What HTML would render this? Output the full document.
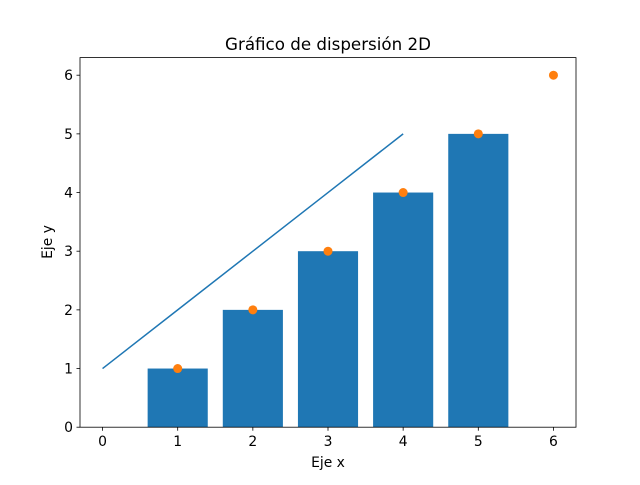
<!DOCTYPE html>
<html><head><meta charset="utf-8"><style>
body{margin:0;background:#fff}
svg{font-family:"DejaVu Sans","Liberation Sans",sans-serif}
</style></head><body>
<svg id="chart" width="640" height="480" viewBox="0 0 640 480">
<rect width="640" height="480" fill="#fff"/>
<g id="bars"></g><g id="line"></g><g id="pts"></g><g id="ticks"></g>
<rect x="80" y="57.6" width="496" height="369.6" fill="none" stroke="#000" stroke-width="0.8"/>
<text x="328" y="50" text-anchor="middle" font-size="16.7">Gráfico de dispersión 2D</text>
<text x="328" y="467" text-anchor="middle" font-size="13.9">Eje x</text>
<text transform="translate(52,242) rotate(-90)" text-anchor="middle" font-size="13.9">Eje y</text>
</svg>
<script>
const barCats=[1,2,3,4,5];
const barVals=[1,2,3,4,5];
const lineX=[0,1,2,3,4];
const lineY=[1,2,3,4,5];
const ptX=[1,2,3,4,5,6];
const ptY=[1,2,3,4,5,6];
const xTicks=[0,1,2,3,4,5,6];
const yTicks=[0,1,2,3,4,5,6];
const NS="http://www.w3.org/2000/svg";
const X=v=>80+(v+0.3)/6.6*496;
const Y=v=>427.2-v/6.3*369.6;
function mk(t,a,p){const e=document.createElementNS(NS,t);for(const k in a)e.setAttribute(k,a[k]);document.getElementById(p).appendChild(e);return e;}
barCats.forEach((c,i)=>{const e=mk('rect',{x:X(c-0.4),y:Y(barVals[i]),width:X(c+0.4)-X(c-0.4),height:Y(0)-Y(barVals[i]),fill:'#1f77b4'},'bars');

});
const l=mk('polyline',{points:lineX.map((x,i)=>X(x)+','+Y(lineY[i])).join(' '),fill:'none',stroke:'#1f77b4','stroke-width':1.5},'line');


ptX.forEach((x,i)=>{const e=mk('circle',{cx:X(x),cy:Y(ptY[i]),r:4.5,fill:'#ff7f0e'},'pts');

});
xTicks.forEach(t=>{mk('line',{x1:X(t),x2:X(t),y1:427.2,y2:430.7,stroke:'#000','stroke-width':0.8},'ticks');
const e=mk('text',{x:X(t),y:446,'text-anchor':'middle','font-size':13.9},'ticks');e.textContent=t;

});
yTicks.forEach(t=>{mk('line',{x1:76.5,x2:80,y1:Y(t),y2:Y(t),stroke:'#000','stroke-width':0.8},'ticks');
const e=mk('text',{x:73,y:Y(t)+5,'text-anchor':'end','font-size':13.9},'ticks');e.textContent=t;

});
</script>
</body></html>
